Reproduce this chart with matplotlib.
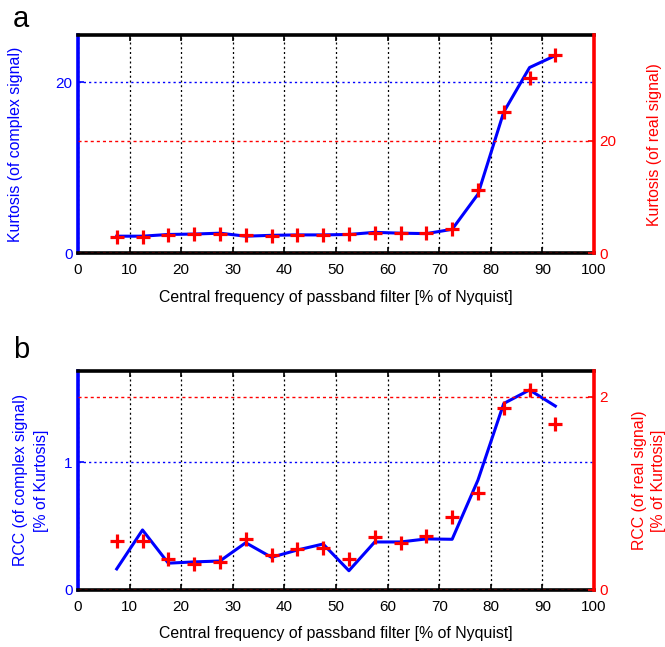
import matplotlib
matplotlib.use("Agg")
import matplotlib.pyplot as plt

plt.rcParams['font.family'] = ['Liberation Sans', 'DejaVu Sans']

# Central frequency of each passband filter [% of Nyquist]
freq = [7.5, 12.5, 17.5, 22.5, 27.5, 32.5, 37.5, 42.5, 47.5, 52.5,
        57.5, 62.5, 67.5, 72.5, 77.5, 82.5, 87.5, 92.5]

# Panel a: kurtosis
kurt_complex = [2.0, 2.0, 2.2, 2.25, 2.35, 2.0, 2.1, 2.15, 2.15, 2.2,
                2.45, 2.35, 2.3, 2.8, 6.9, 16.5, 21.7, 23.1]
kurt_real = [2.95, 2.95, 3.2, 3.4, 3.5, 3.2, 3.0, 3.2, 3.2, 3.4,
             3.6, 3.6, 3.55, 4.4, 11.3, 25.2, 31.1, 35.3]

# Panel b: RCC
rcc_complex = [0.165, 0.47, 0.21, 0.22, 0.227, 0.37, 0.256, 0.313, 0.36, 0.151,
               0.376, 0.376, 0.40, 0.397, 0.86, 1.46, 1.566, 1.44]
rcc_real = [0.507, 0.507, 0.324, 0.269, 0.286, 0.524, 0.362, 0.421, 0.438, 0.32,
            0.545, 0.483, 0.559, 0.758, 1.007, 1.886, 2.069, 1.714]

xticks = [0, 10, 20, 30, 40, 50, 60, 70, 80, 90, 100]
xlabel = "Central frequency of passband filter [% of Nyquist]"

BLUE = "#0000ff"
RED = "#ff0000"
TICK_FS = 11
LABEL_FS = 11.4
DOT = (0, (1.6, 2.2))

fig = plt.figure(figsize=(6.65, 6.47), dpi=100)


def panel(rect, yl, yr, left_ticks, right_ticks, left_lim, right_lim,
          left_label, right_label, letter, letter_y, lx, rx, lsp_l, lsp_r):
    ax = fig.add_axes(rect)
    ax.set_xlim(0, 100)
    ax.set_ylim(*left_lim)
    ax.set_xticks(xticks)
    ax.set_yticks(left_ticks)
    ax.set_yticklabels([f"{t:g}" for t in left_ticks])
    ax.tick_params(axis='x', direction='in', top=True, length=4, width=1.2,
                   labelsize=TICK_FS, pad=7, color='black')
    ax.tick_params(axis='y', direction='in', length=4, width=1.2,
                   labelsize=TICK_FS, colors=BLUE, pad=4)
    ax.grid(axis='x', color='black', linestyle=DOT, linewidth=0.9)
    ax.grid(axis='y', color=BLUE, linestyle=DOT, linewidth=1.0)
    for s in ('top', 'bottom'):
        ax.spines[s].set_color('black')
        ax.spines[s].set_linewidth(2.6)
    ax.spines['left'].set_color(BLUE)
    ax.spines['left'].set_linewidth(2.6)
    ax.spines['right'].set_visible(False)
    ax.plot(freq, yl, color=BLUE, linewidth=2.2, zorder=3)
    ax.set_xlabel(xlabel, fontsize=LABEL_FS, labelpad=9)
    ax.set_ylabel(left_label, fontsize=LABEL_FS, color=BLUE,
                  linespacing=lsp_l)
    ax.yaxis.label.set_va('center')
    ax.yaxis.set_label_coords(lx, 0.5)

    ax2 = ax.twinx()
    ax2.set_ylim(*right_lim)
    ax2.set_yticks(right_ticks)
    ax2.set_yticklabels([f"{t:g}" for t in right_ticks])
    ax2.tick_params(axis='y', direction='in', length=4, width=1.2,
                    labelsize=TICK_FS, colors=RED, pad=4)
    ax2.grid(axis='y', color=RED, linestyle=(0, (2.2, 2.2)), linewidth=1.0)
    for s in ('left', 'top', 'bottom'):
        ax2.spines[s].set_visible(False)
    ax2.spines['right'].set_color(RED)
    ax2.spines['right'].set_linewidth(2.6)
    ax2.plot(freq, yr, linestyle='none', marker='+', markersize=10.5,
             markeredgewidth=2.3, color=RED, zorder=4)
    ax2.set_ylabel(right_label, fontsize=LABEL_FS, color=RED,
                   linespacing=lsp_r)
    ax2.yaxis.label.set_va('center')
    ax2.yaxis.set_label_coords(rx, 0.5)
    ax2.set_xlim(0, 100)

    fig.text(0.019, letter_y, letter, fontsize=21, ha='left', va='baseline')
    return ax, ax2


panel([0.1173, 0.6085, 0.776, 0.3374], kurt_complex, kurt_real,
      [0, 20], [0, 20], (0, 25.5), (0, 38.8),
      "Kurtosis (of complex signal)", "Kurtosis (of real signal)", "a",
      0.9587, -0.122, 1.118, 1.2, 1.2)

panel([0.1173, 0.0881, 0.776, 0.339], rcc_complex, rcc_real,
      [0, 1], [0, 2], (0, 1.717), (0, 2.27),
      "RCC (of complex signal)\n[% of Kurtosis]",
      "RCC (of real signal)\n[% of Kurtosis]", "b",
      0.4462, -0.091, 1.106, 1.45, 1.3)

fig.savefig("out.png", dpi=100)
